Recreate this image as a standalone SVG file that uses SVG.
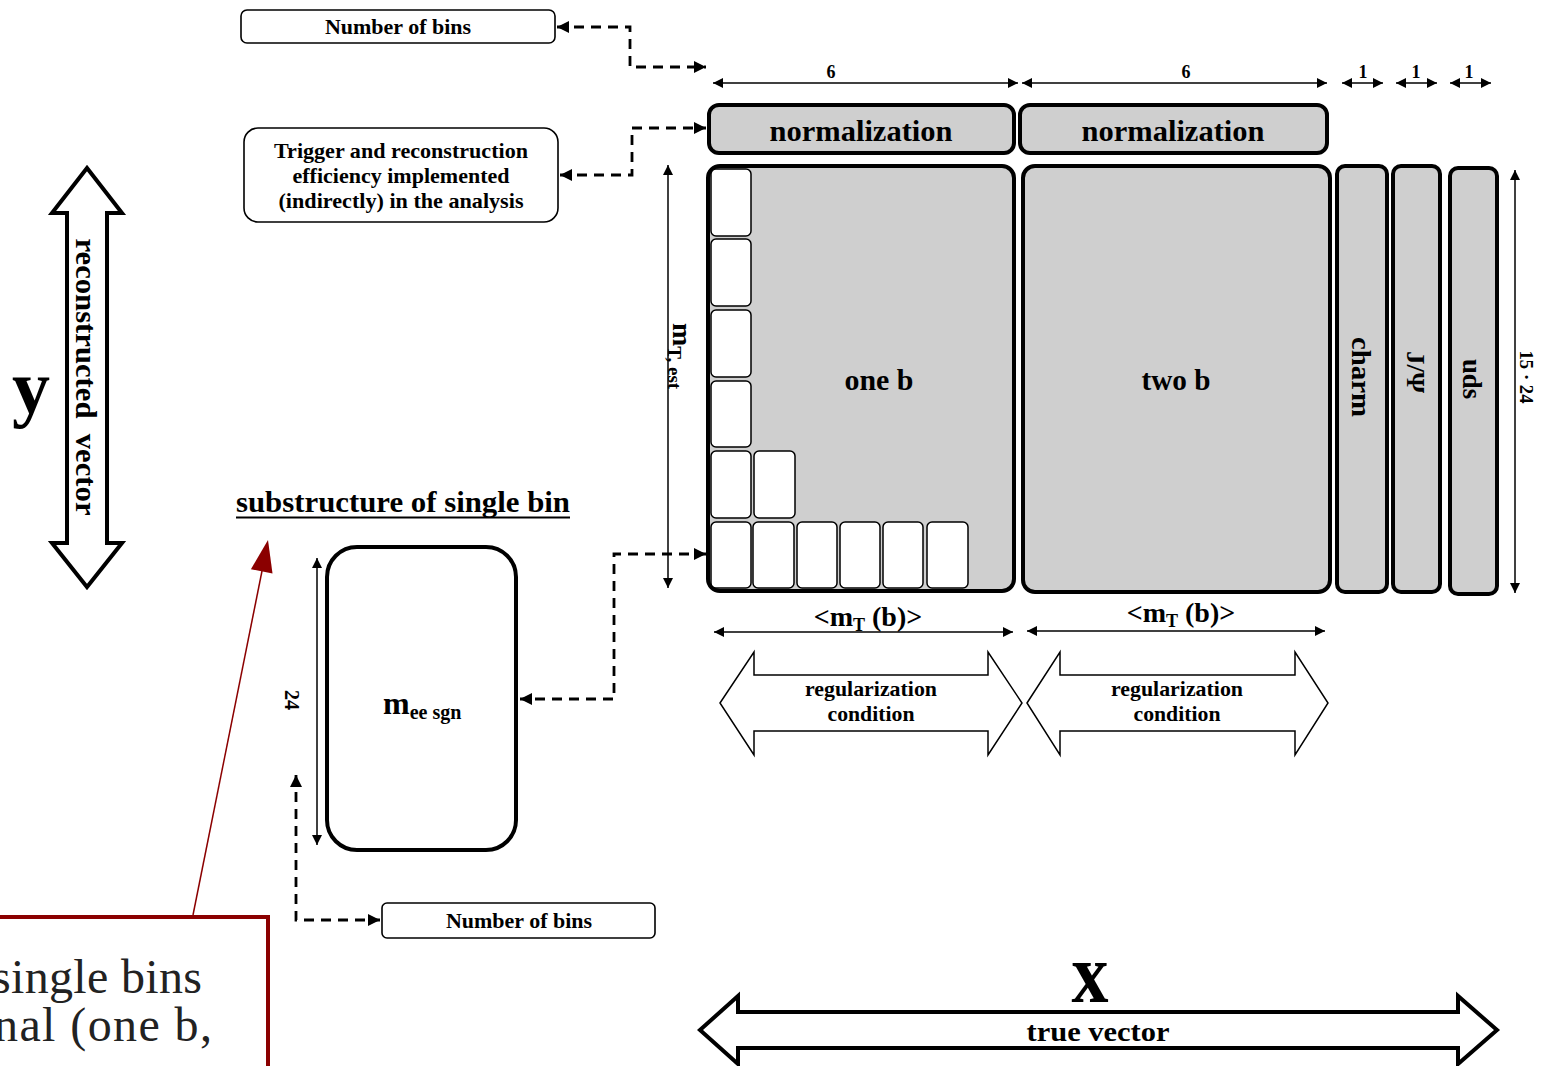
<svg xmlns="http://www.w3.org/2000/svg" width="1555" height="1066" viewBox="0 0 1555 1066">
<defs>
<style>
.t{font-family:"Liberation Serif","Times New Roman",serif;font-weight:bold;fill:#000}
.n{font-family:"Liberation Serif","Times New Roman",serif;fill:#000}
.box{fill:#fff;stroke:#000;stroke-width:1.6}
.big{fill:#cfcfcf;stroke:#000;stroke-width:4}
.cell{fill:#fff;stroke:#000;stroke-width:1.5}
.dim{fill:none;stroke:#000;stroke-width:1.5}
.dash{fill:none;stroke:#000;stroke-width:2.8;stroke-dasharray:10,7}
.outl{fill:#fff;stroke:#000;stroke-width:4;stroke-linejoin:miter}
.outt{fill:#fff;stroke:#000;stroke-width:1.5}
</style>
<marker id="ah" viewBox="0 0 10 10" refX="10" refY="5" markerWidth="12" markerHeight="10" orient="auto-start-reverse" markerUnits="userSpaceOnUse"><path d="M0,0 L10,5 L0,10 z" fill="#000"/></marker>
<marker id="ahd" viewBox="0 0 10 10" refX="10" refY="5" markerWidth="13" markerHeight="12" orient="auto-start-reverse" markerUnits="userSpaceOnUse"><path d="M0,0 L10,5 L0,10 z" fill="#000"/></marker>
</defs>
<rect x="0" y="0" width="1555" height="1066" fill="#fff"/>

<g id="connectors">
<path class="dash" d="M557,27 H630 V67 H706" marker-start="url(#ahd)" marker-end="url(#ahd)"/>
<path class="dash" d="M560,175 H632 V128 H706" marker-start="url(#ahd)" marker-end="url(#ahd)"/>
<path class="dash" d="M706,554 H614 V699 H520" marker-start="url(#ahd)" marker-end="url(#ahd)"/>
<path class="dash" d="M296,775 V920 H380" marker-start="url(#ahd)" marker-end="url(#ahd)"/>
<line x1="193" y1="915" x2="263" y2="566" stroke="#8b0000" stroke-width="1.5"/>
<polygon points="268,540 250.9,569.2 272.5,573.6" fill="#8b0000"/>
</g>

<g id="dimensions">
<line class="dim" x1="713" y1="83" x2="1018" y2="83" marker-start="url(#ah)" marker-end="url(#ah)"/>
<line class="dim" x1="1022" y1="83" x2="1327" y2="83" marker-start="url(#ah)" marker-end="url(#ah)"/>
<line class="dim" x1="1342" y1="83" x2="1383" y2="83" marker-start="url(#ah)" marker-end="url(#ah)"/>
<line class="dim" x1="1396" y1="83" x2="1437" y2="83" marker-start="url(#ah)" marker-end="url(#ah)"/>
<line class="dim" x1="1450" y1="83" x2="1491" y2="83" marker-start="url(#ah)" marker-end="url(#ah)"/>
<text class="t" x="831" y="78" font-size="18" text-anchor="middle">6</text>
<text class="t" x="1186" y="78" font-size="18" text-anchor="middle">6</text>
<text class="t" x="1363" y="78" font-size="18" text-anchor="middle">1</text>
<text class="t" x="1416" y="78" font-size="18" text-anchor="middle">1</text>
<text class="t" x="1469" y="78" font-size="18" text-anchor="middle">1</text>
<line class="dim" x1="668" y1="165" x2="668" y2="588" marker-start="url(#ah)" marker-end="url(#ah)"/>
<text class="t" transform="translate(673,356) rotate(90)" text-anchor="middle"><tspan font-size="28">m</tspan><tspan font-size="19" dy="5">T, est</tspan></text>
<line class="dim" x1="1515" y1="170" x2="1515" y2="593" marker-start="url(#ah)" marker-end="url(#ah)"/>
<text class="t" transform="translate(1520,377) rotate(90)" font-size="19" text-anchor="middle" textLength="53" lengthAdjust="spacingAndGlyphs">15 · 24</text>
<line class="dim" x1="317" y1="558" x2="317" y2="845" marker-start="url(#ah)" marker-end="url(#ah)"/>
<text class="t" transform="translate(285,700) rotate(90)" font-size="20" text-anchor="middle">24</text>
<line class="dim" x1="714" y1="632" x2="1013" y2="632" marker-start="url(#ah)" marker-end="url(#ah)"/>
<line class="dim" x1="1027" y1="631" x2="1325" y2="631" marker-start="url(#ah)" marker-end="url(#ah)"/>
<text class="t" x="868" y="626" text-anchor="middle"><tspan font-size="28">&lt;m</tspan><tspan font-size="18" dy="5">T</tspan><tspan font-size="28" dy="-5"> (b)&gt;</tspan></text>
<text class="t" x="1181" y="622" text-anchor="middle"><tspan font-size="28">&lt;m</tspan><tspan font-size="18" dy="5">T</tspan><tspan font-size="28" dy="-5"> (b)&gt;</tspan></text>
</g>

<g id="nbins-top">
<rect class="box" x="241" y="10" width="314" height="33" rx="6"/>
<text class="t" x="398" y="34" font-size="21" text-anchor="middle" textLength="146" lengthAdjust="spacingAndGlyphs">Number of bins</text>
</g>

<g id="trigger">
<rect class="box" x="244" y="128" width="314" height="94" rx="14"/>
<text class="t" x="401" y="158" font-size="21" text-anchor="middle" textLength="254" lengthAdjust="spacingAndGlyphs">Trigger and reconstruction</text>
<text class="t" x="401" y="183" font-size="21" text-anchor="middle" textLength="217" lengthAdjust="spacingAndGlyphs">efficiency implemented</text>
<text class="t" x="401" y="208" font-size="21" text-anchor="middle" textLength="245" lengthAdjust="spacingAndGlyphs">(indirectly) in the analysis</text>
</g>

<g id="norm1">
<rect class="big" x="709" y="105" width="305" height="48" rx="10"/>
<text class="t" x="861" y="141" font-size="29" text-anchor="middle" textLength="183" lengthAdjust="spacingAndGlyphs">normalization</text>
</g>
<g id="norm2">
<rect class="big" x="1020" y="105" width="307" height="48" rx="10"/>
<text class="t" x="1173" y="141" font-size="29" text-anchor="middle" textLength="183" lengthAdjust="spacingAndGlyphs">normalization</text>
</g>

<g id="oneb">
<rect class="big" x="708" y="166" width="306" height="425" rx="12"/>
<rect class="cell" x="711" y="169" width="40" height="67" rx="5"/>
<rect class="cell" x="711" y="239" width="40" height="67" rx="5"/>
<rect class="cell" x="711" y="310" width="40" height="67" rx="5"/>
<rect class="cell" x="711" y="381" width="40" height="66" rx="5"/>
<rect class="cell" x="711" y="451" width="40" height="67" rx="5"/>
<rect class="cell" x="754" y="451" width="41" height="67" rx="5"/>
<rect class="cell" x="711" y="522" width="40" height="66" rx="5"/>
<rect class="cell" x="753" y="522" width="41" height="66" rx="5"/>
<rect class="cell" x="797" y="522" width="40" height="66" rx="5"/>
<rect class="cell" x="840" y="522" width="40" height="66" rx="5"/>
<rect class="cell" x="883" y="522" width="40" height="66" rx="5"/>
<rect class="cell" x="927" y="522" width="41" height="66" rx="5"/>
<text class="t" x="879" y="390" font-size="29" text-anchor="middle" textLength="69" lengthAdjust="spacingAndGlyphs">one b</text>
</g>

<g id="twob">
<rect class="big" x="1023" y="166" width="307" height="426" rx="12"/>
<text class="t" x="1176" y="390" font-size="29" text-anchor="middle" textLength="69" lengthAdjust="spacingAndGlyphs">two b</text>
</g>

<g id="charm">
<rect class="big" x="1337" y="166" width="50" height="426" rx="8"/>
<text class="t" transform="translate(1352,377) rotate(90)" font-size="27" text-anchor="middle" textLength="80" lengthAdjust="spacingAndGlyphs">charm</text>
</g>
<g id="jpsi">
<rect class="big" x="1393" y="166" width="47" height="426" rx="8"/>
<text class="t" transform="translate(1407,372) rotate(90)" font-size="26" text-anchor="middle" textLength="42" lengthAdjust="spacingAndGlyphs">J/Ψ</text>
</g>
<g id="uds">
<rect class="big" x="1450" y="168" width="47" height="426" rx="8"/>
<text class="t" transform="translate(1463,379) rotate(90)" font-size="27" text-anchor="middle" textLength="40" lengthAdjust="spacingAndGlyphs">uds</text>
</g>

<g id="reg1">
<path class="outt" d="M720,703 L754,652 V675 H988 V652 L1022,703 L988,755 V731 H754 V755 Z"/>
<text class="t" x="871" y="696" font-size="21" text-anchor="middle" textLength="132" lengthAdjust="spacingAndGlyphs">regularization</text>
<text class="t" x="871" y="721" font-size="21" text-anchor="middle" textLength="87" lengthAdjust="spacingAndGlyphs">condition</text>
</g>
<g id="reg2">
<path class="outt" d="M1027,703 L1060,652 V675 H1295 V652 L1328,703 L1295,755 V731 H1060 V755 Z"/>
<text class="t" x="1177" y="696" font-size="21" text-anchor="middle" textLength="132" lengthAdjust="spacingAndGlyphs">regularization</text>
<text class="t" x="1177" y="721" font-size="21" text-anchor="middle" textLength="87" lengthAdjust="spacingAndGlyphs">condition</text>
</g>

<g id="yaxis">
<path class="outl" d="M87,168 L122,213 H107 V543 H122 L87,587 L52,543 H67 V213 H52 Z"/>
<text class="t" transform="translate(76,377) rotate(90)" font-size="29" text-anchor="middle" textLength="277" lengthAdjust="spacingAndGlyphs" style="white-space:pre">reconstructed  vector</text>
<text class="t" x="12" y="413" font-size="76">y</text>
</g>

<g id="xaxis">
<path class="outl" d="M700,1030 L738,996 V1012 H1458 V996 L1497,1030 L1458,1064 V1048 H738 V1064 Z"/>
<text class="t" x="1098" y="1041" font-size="27" text-anchor="middle" textLength="143" lengthAdjust="spacingAndGlyphs">true vector</text>
<text class="t" x="1090" y="1002" font-size="84" text-anchor="middle" textLength="37" lengthAdjust="spacingAndGlyphs">x</text>
</g>

<g id="substructure">
<text class="t" x="236" y="512" font-size="29" textLength="334" lengthAdjust="spacingAndGlyphs">substructure of single bin</text>
<line x1="236" y1="517.5" x2="570" y2="517.5" stroke="#000" stroke-width="2"/>
</g>

<g id="mee">
<rect x="327" y="547" width="189" height="303" rx="30" fill="#fff" stroke="#000" stroke-width="4"/>
<text class="t" x="383" y="714"><tspan font-size="32">m</tspan><tspan font-size="20" dy="5">ee sgn</tspan></text>
</g>

<g id="nbins-bottom">
<rect class="box" x="382" y="903" width="273" height="35" rx="5"/>
<text class="t" x="519" y="928" font-size="21" text-anchor="middle" textLength="146" lengthAdjust="spacingAndGlyphs">Number of bins</text>
</g>

<g id="callout">
<rect x="-10" y="917" width="278" height="200" fill="#fff" stroke="#8b0000" stroke-width="4"/>
<text x="202" y="993" font-family="Liberation Serif, serif" font-size="48" fill="#222" text-anchor="end" textLength="210" lengthAdjust="spacing">single bins</text>
<text x="212" y="1041" font-family="Liberation Serif, serif" font-size="48" fill="#222" text-anchor="end" textLength="218" lengthAdjust="spacing">nal (one b,</text>
</g>
</svg>
